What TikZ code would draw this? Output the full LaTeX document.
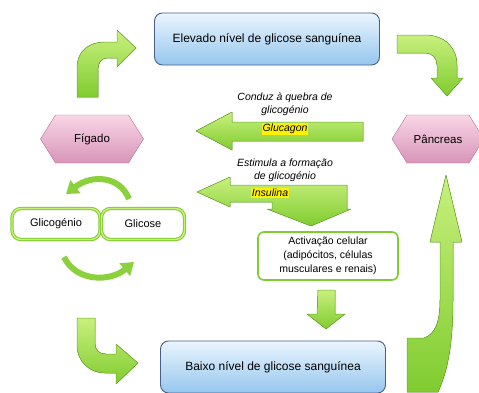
\documentclass[tikz,border=0pt]{standalone}
\usepackage{fontspec}
\setmainfont{Liberation Sans}
\usetikzlibrary{shapes, arrows.meta, positioning}

\definecolor{limeA}{RGB}{200,240,125}
\definecolor{limeB}{RGB}{128,204,48}
\definecolor{limeEdge}{RGB}{104,168,40}
\definecolor{pinkA}{RGB}{248,214,230}
\definecolor{pinkB}{RGB}{216,148,184}
\definecolor{pinkEdge}{RGB}{186,112,150}
\definecolor{skyA}{RGB}{234,245,254}
\definecolor{skyB}{RGB}{150,198,238}
\definecolor{skyEdge}{RGB}{72,96,136}

\begin{document}
\begin{tikzpicture}[
    x=1pt, y=-1pt,
    font=\fontsize{11}{13}\selectfont,
    level_box/.style={draw=skyEdge, line width=0.9pt, rounded corners=8pt, top color=skyA, bottom color=skyB, minimum width=225pt, minimum height=52pt, font=\fontsize{12}{14}\selectfont},
    organ_hex/.style={signal, signal to=east and west, signal pointer angle=116, draw=pinkEdge, top color=pinkA, bottom color=pinkB, minimum height=48pt, font=\fontsize{11.5}{13}\selectfont},
    store_box/.style={draw=limeB, double=limeA, double distance=1.4pt, line width=1pt, rounded corners=9pt, fill=white, minimum height=31pt, font=\fontsize{11}{13}\selectfont},
    target_box/.style={draw=limeB, line width=1.6pt, rounded corners=6pt, fill=white, minimum width=140pt, minimum height=48pt, align=center, font=\fontsize{10.5}{14}\selectfont},
    fat_arrow/.style={draw=limeEdge, line width=0.5pt, line join=round, top color=limeA, bottom color=limeB},
    turn_arrow/.style={draw=limeB!85!limeA, line width=6pt, -{Triangle[width=16pt, length=12pt]}},
    note_text/.style={align=center, font=\itshape\fontsize{10.5}{13}\selectfont},
    hormone/.style={fill=yellow, inner sep=1pt, font=\itshape\fontsize{10.5}{12}\selectfont}
]
\useasboundingbox (0,0) rectangle (479,392);

% --- Cycle arrows ---
\filldraw[fat_arrow] (77,97) -- (77,68) .. controls (77,50) and (90,42) .. (105,42) -- (117,42) -- (117,30) -- (136,48) -- (117,67) -- (117,58) -- (108,58) .. controls (101,58) and (98,63) .. (98,70) -- (98,97) -- cycle;
\filldraw[fat_arrow] (397,35) -- (425,35) .. controls (445,35) and (457,48) .. (457,65) -- (457,78) -- (463,78) -- (447,96) -- (431,78) -- (437,78) -- (437,65) .. controls (437,58) and (432,53) .. (425,53) -- (397,53) -- cycle;
\filldraw[fat_arrow] (77,318) -- (77,345) .. controls (77,362) and (90,373) .. (105,373) -- (116,373) -- (116,384) -- (138,363) -- (116,344) -- (116,354) -- (106,354) .. controls (99,354) and (95,350) .. (95,343) -- (95,318) -- cycle;
\filldraw[fat_arrow] (407,392) -- (407,338) -- (424,338) .. controls (436,334) and (440,320) .. (440,300) -- (440,242) -- (430,242) -- (446,175) -- (462,242) -- (453,242) -- (453,300) .. controls (453,350) and (446,375) .. (438,392) -- cycle;

% --- Hormone arrows ---
\filldraw[fat_arrow] (196,131) -- (232,112) -- (232,122) -- (363,122) -- (363,141) -- (232,141) -- (232,150) -- cycle;
\filldraw[fat_arrow] (197,192) -- (230,177) -- (230,185) -- (347,185) -- (347,209) -- (351,209) -- (311,226) -- (267,209) -- (272,209) -- (272,202) -- (230,202) -- (230,207) -- cycle;
\filldraw[fat_arrow] (318,290) -- (335,290) -- (335,314) -- (345,314) -- (326,329) -- (307,314) -- (317,314) -- cycle;

% --- Liver turnover ---
\draw[turn_arrow] (129,199) .. controls (120,176) and (92,174) .. (66,194);
\draw[turn_arrow] (64,257) .. controls (76,282) and (110,282) .. (134,262);

% --- Blood glucose levels ---
\node[level_box] (high) at (267,39) {Elevado nível de glicose sanguínea};
\node[level_box] (low) at (273,367) {Baixo nível de glicose sanguínea};

% --- Organs ---
\node[organ_hex, minimum width=103pt] (liver) at (92,139) {Fígado};
\node[organ_hex, minimum width=92pt] (pancreas) at (438,139) {Pâncreas};

% --- Liver stores ---
\node[store_box, minimum width=88pt] (glycogen) at (56,224) {Glicogénio};
\node[store_box, minimum width=83pt] (glucose) at (143,224) {Glicose};

% --- Cell response ---
\node[target_box] (cells) at (328,256) {Activação celular\\(adipócitos, células\\musculares e renais)};

% --- Labels ---
\node[note_text] (breakdown) at (285,104) {Conduz à quebra de\\glicogénio};
\node[hormone] (glucagon) at (285,129) {Glucagon};
\node[note_text] (synthesis) at (285,170) {Estimula a formação\\de glicogénio};
\node[hormone] (insulin) at (270,193) {Insulina};

\end{tikzpicture}
\end{document}
